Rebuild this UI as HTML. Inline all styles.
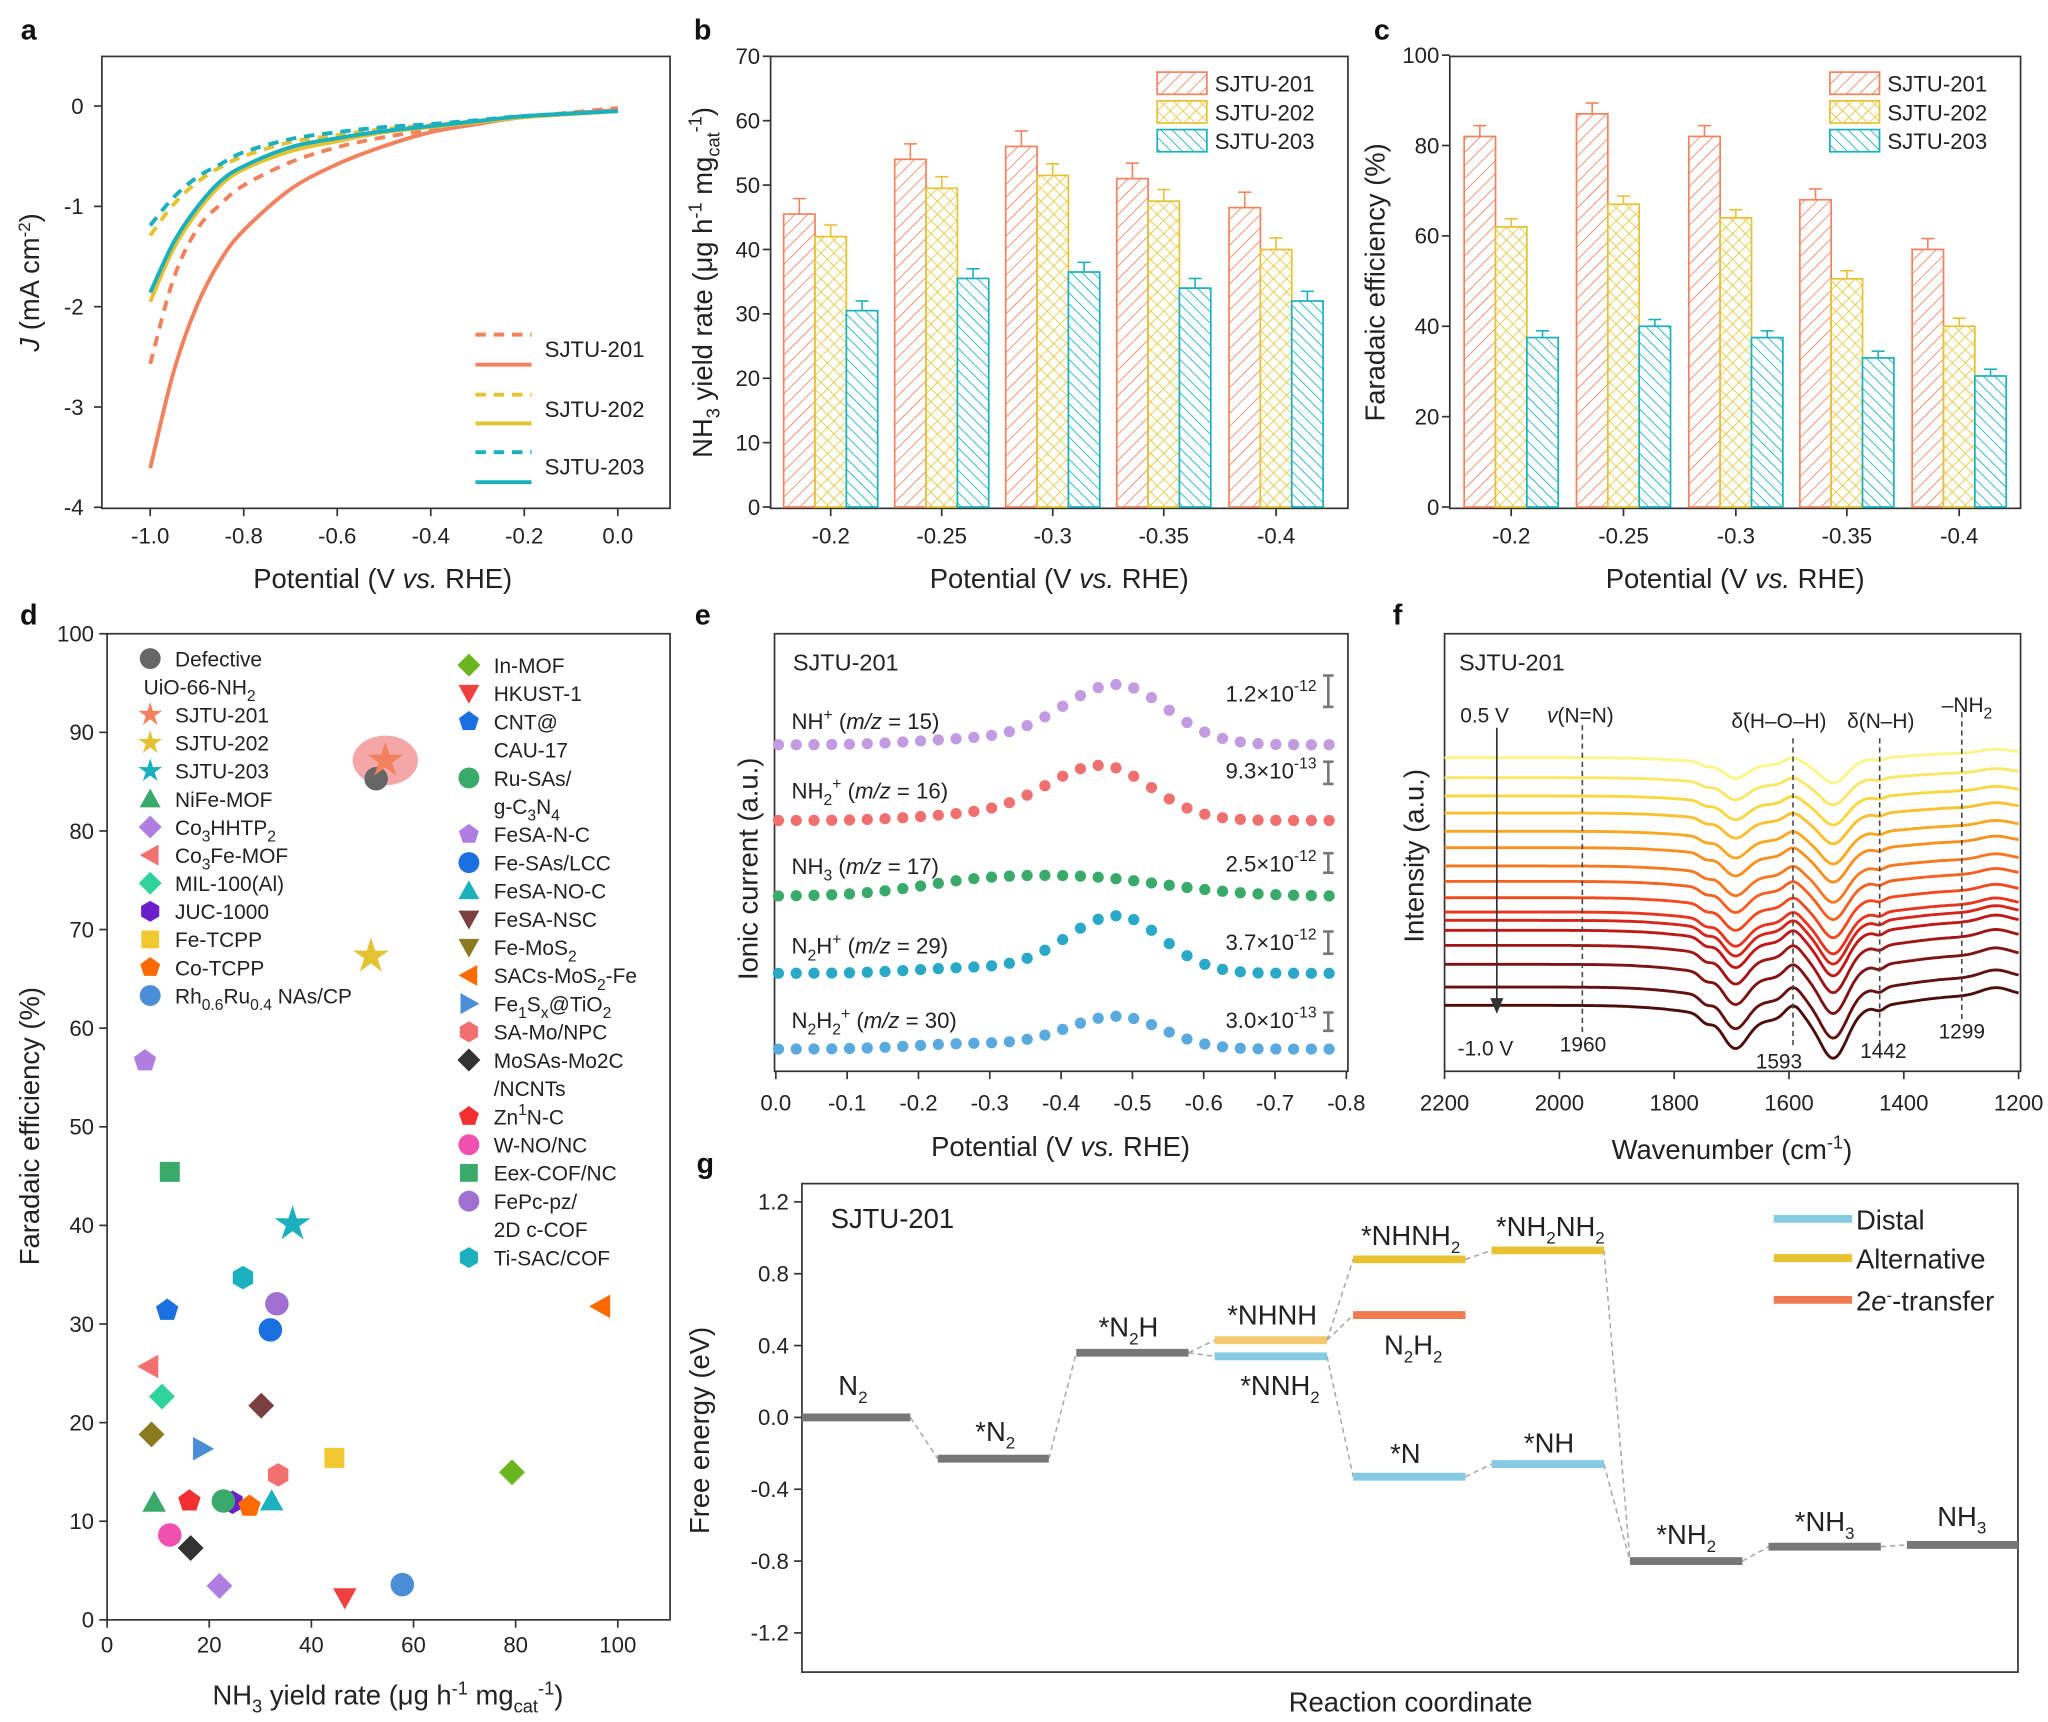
<!DOCTYPE html>
<html><head><meta charset="utf-8">
<style>
html,body{margin:0;padding:0;background:#fff;}
svg{display:block;font-family:"Liberation Sans",Arial,sans-serif;}
.t{font-size:17px;fill:#222}
.lab{font-size:21px;fill:#222}
.pl{font-size:22px;font-weight:bold;fill:#111}
.sm{font-size:16px;fill:#222}
</style></head>
<body>
<svg id="s" width="2048" height="1722" viewBox="0 0 1568 1318" xmlns="http://www.w3.org/2000/svg">
<defs>
<pattern id="h1" width="7" height="7" patternUnits="userSpaceOnUse" patternTransform="rotate(45)"><rect width="7" height="7" fill="#fff"/><line x1="0" y1="0" x2="0" y2="7" stroke="#f2825e" stroke-width="1.3"/></pattern>
<pattern id="h2" width="7" height="7" patternUnits="userSpaceOnUse" patternTransform="rotate(45)"><rect width="7" height="7" fill="#fff"/><line x1="0" y1="0" x2="0" y2="7" stroke="#e5c232" stroke-width="1.2"/><line x1="0" y1="0" x2="7" y2="0" stroke="#e5c232" stroke-width="1.2"/></pattern>
<pattern id="h3" width="6" height="6" patternUnits="userSpaceOnUse" patternTransform="rotate(-45)"><rect width="6" height="6" fill="#fff"/><line x1="0" y1="0" x2="0" y2="6" stroke="#1ab0bd" stroke-width="1.3"/></pattern>
</defs>
<g id="root"></g>
</svg>
<script>
const R=document.getElementById('root');let H='';
const C1='#f2825e',C2='#e5c232',C3='#1ab0bd';
function T(x,y,s,cls,anc,extra){H+=`<text x="${x}" y="${y}" class="${cls||'t'}" text-anchor="${anc||'middle'}" ${extra||''}>${s}</text>`;}
function box(x1,y1,x2,y2){H+=`<rect x="${x1}" y="${y1}" width="${x2-x1}" height="${y2-y1}" fill="none" stroke="#333" stroke-width="1.3"/>`;}
function L(x1,y1,x2,y2,c,w,d){H+=`<line x1="${x1}" y1="${y1}" x2="${x2}" y2="${y2}" stroke="${c||'#333'}" stroke-width="${w||1.3}" ${d?`stroke-dasharray="${d}"`:''}/>`;}
function cr(P){let d='M'+P[0][0].toFixed(1)+','+P[0][1].toFixed(1);for(let i=0;i<P.length-1;i++){let p0=P[i-1]||P[i],p1=P[i],p2=P[i+1],p3=P[i+2]||p2;
 let c1=[p1[0]+(p2[0]-p0[0])/6,p1[1]+(p2[1]-p0[1])/6],c2=[p2[0]-(p3[0]-p1[0])/6,p2[1]-(p3[1]-p1[1])/6];
 d+=`C${c1[0].toFixed(1)},${c1[1].toFixed(1)} ${c2[0].toFixed(1)},${c2[1].toFixed(1)} ${p2[0].toFixed(1)},${p2[1].toFixed(1)}`;}return d;}
// panel labels
T(22,30,'a','pl');T(538,30,'b','pl');T(1058,30,'c','pl');T(22,478,'d','pl');T(538,478,'e','pl');T(1070,478,'f','pl');T(540,898,'g','pl');
// ---- a
box(78,43,513,389);
const ax=v=>473+v*358, ay=j=>81-j*76.8;
for(let i=0;i<=5;i++){let v=-1+i*0.2,x=ax(v);L(x,389,x,395);T(x,416,v.toFixed(1));}
for(let j=0;j<=4;j++){let y=ay(-j);L(72,y,78,y);T(64,y+6,j?'-'+j:'0','t','end');}
T(293,450,'Potential (V <tspan font-style="italic">vs.</tspan> RHE)','lab');
T(30,216,'<tspan font-style="italic">J</tspan> (mA cm<tspan dy="-7" font-size="13">-2</tspan><tspan dy="7">)</tspan>','lab','middle','transform="rotate(-90 30 216)"');
const VV=[-1,-0.95,-0.9,-0.85,-0.8,-0.7,-0.6,-0.5,-0.4,-0.3,-0.2,0];
function curve(J,c,d){let P=VV.map((v,i)=>[ax(v),ay(J[i])]);H+=`<path d="${cr(P)}" fill="none" stroke="${c}" stroke-width="3" ${d?'stroke-dasharray="8,6"':''}/>`;}
curve([-3.61,-2.65,-1.99,-1.54,-1.24,-0.83,-0.58,-0.4,-0.26,-0.18,-0.11,-0.04],C1);
curve([-2.57,-1.72,-1.23,-0.98,-0.79,-0.56,-0.41,-0.31,-0.24,-0.17,-0.11,-0.02],C1,1);
curve([-1.95,-1.42,-1.06,-0.79,-0.63,-0.45,-0.35,-0.26,-0.21,-0.16,-0.11,-0.05],C2);
curve([-1.29,-0.98,-0.76,-0.61,-0.5,-0.36,-0.29,-0.23,-0.19,-0.15,-0.11,-0.05],C2,1);
curve([-1.86,-1.36,-1.01,-0.75,-0.6,-0.41,-0.32,-0.25,-0.2,-0.15,-0.1,-0.05],C3);
curve([-1.19,-0.91,-0.71,-0.58,-0.46,-0.33,-0.26,-0.21,-0.18,-0.14,-0.1,-0.05],C3,1);
[[C1,256,279,'SJTU-201'],[C2,302,324,'SJTU-202'],[C3,346,369,'SJTU-203']].forEach(a=>{L(364,a[1],407,a[1],a[0],3,'8,6');L(364,a[2],407,a[2],a[0],3);T(417,a[1]+17,a[3],'sm','start','style="font-size:17px"');});
// ---- bars
function bars(x1,x2,y0,sc,ymax,step,centers,vals,yl,ylx){
 box(x1,43,x2,389);
 const labs=['-0.2','-0.25','-0.3','-0.35','-0.4'];
 centers.forEach((c,i)=>{L(c,389,c,395);T(c,416,labs[i]);
  vals[i].forEach((v,k)=>{let x=c-36+k*24,y=y0-v*sc;let col=[C1,C2,C3][k];
   let e=[2,1.8,1.5][k]*(k==0?1.2:1);
   L(x+12,y,x+12,y-e*sc,col,1.2);L(x+7,y-e*sc,x+17,y-e*sc,col,1.2);
   H+=`<rect x="${x}" y="${y}" width="24" height="${v*sc}" fill="url(#h${k+1})" stroke="${col}" stroke-width="1.3"/>`;});});
 for(let v=0;v<=ymax;v+=step){let y=y0-v*sc;L(x1-6,y,x1,y);T(x1-8,y+6,v,'t','end');}
 T((x1+x2)/2,450,'Potential (V <tspan font-style="italic">vs.</tspan> RHE)','lab');
 T(ylx,216,yl,'lab','middle',`transform="rotate(-90 ${ylx} 216)"`);
 let lx=x2-146;[['SJTU-201',1],['SJTU-202',2],['SJTU-203',3]].forEach((a,i)=>{let y=55+i*22;H+=`<rect x="${lx}" y="${y}" width="38" height="17" fill="url(#h${a[1]})" stroke="${[C1,C2,C3][i]}" stroke-width="1.3"/>`;T(lx+44,y+15,a[0],'sm','start','style="font-size:17px"');});
}
bars(590,1032,388,4.93,70,10,[636,721,806,891,977],[[45.5,42,30.5],[54,49.5,35.5],[56,51.5,36.5],[51,47.5,34],[46.5,40,32]],'NH<tspan dy="6" font-size="14">3</tspan><tspan dy="-6"> yield rate (μg h</tspan><tspan dy="-8" font-size="14">-1</tspan><tspan dy="8"> mg</tspan><tspan dy="6" font-size="14">cat</tspan><tspan dy="-14" font-size="14">-1</tspan><tspan dy="8">)</tspan>',545);
bars(1110,1547,388,3.46,100,20,[1157,1243,1329,1414,1500],[[82,62,37.5],[87,67,40],[82,64,37.5],[68,50.5,33],[57,40,29]],'Faradaic efficiency (%)',1060);
// ---- d
box(82,485,513,1240);
const dx=v=>82+v*3.91, dy=v=>1240-v*7.55;
for(let v=0;v<=100;v+=20){L(dx(v),1240,dx(v),1246);T(dx(v),1265,v);}
for(let v=0;v<=100;v+=10){L(76,dy(v),82,dy(v));T(72,dy(v)+6,v,'t','end');}
T(297,1305,'NH<tspan dy="6" font-size="14">3</tspan><tspan dy="-6"> yield rate (μg h</tspan><tspan dy="-8" font-size="14">-1</tspan><tspan dy="8"> mg</tspan><tspan dy="6" font-size="14">cat</tspan><tspan dy="-14" font-size="14">-1</tspan><tspan dy="8">)</tspan>','lab');
T(30,862,'Faradaic efficiency (%)','lab','middle','transform="rotate(-90 30 862)"');
function mk(x,y,t,c,r){r=r||9;
 if(t=='c')H+=`<circle cx="${x}" cy="${y}" r="${r}" fill="${c}"/>`;
 else if(t=='s')H+=`<rect x="${x-r*0.85}" y="${y-r*0.85}" width="${r*1.7}" height="${r*1.7}" fill="${c}"/>`;
 else if(t=='d')H+=`<polygon points="${x},${y-r*1.1} ${x+r*1.1},${y} ${x},${y+r*1.1} ${x-r*1.1},${y}" fill="${c}"/>`;
 else if(t=='tu')H+=`<polygon points="${x},${y-r} ${x+r},${y+r*0.8} ${x-r},${y+r*0.8}" fill="${c}"/>`;
 else if(t=='td')H+=`<polygon points="${x},${y+r} ${x+r},${y-r*0.8} ${x-r},${y-r*0.8}" fill="${c}"/>`;
 else if(t=='tl')H+=`<polygon points="${x-r},${y} ${x+r*0.8},${y-r} ${x+r*0.8},${y+r}" fill="${c}"/>`;
 else if(t=='tr')H+=`<polygon points="${x+r},${y} ${x-r*0.8},${y-r} ${x-r*0.8},${y+r}" fill="${c}"/>`;
 else if(t=='p'){let p='';for(let i=0;i<5;i++){let a=-Math.PI/2+i*2*Math.PI/5;p+=(x+r*Math.cos(a))+','+(y+r*Math.sin(a))+' ';}H+=`<polygon points="${p}" fill="${c}"/>`;}
 else if(t=='h'){let p='';for(let i=0;i<6;i++){let a=i*Math.PI/3+Math.PI/6;p+=(x+r*Math.cos(a))+','+(y+r*Math.sin(a))+' ';}H+=`<polygon points="${p}" fill="${c}"/>`;}
 else if(t=='st'){let p='';for(let i=0;i<10;i++){let a=-Math.PI/2+i*Math.PI/5;let rr=i%2?r*0.45:r*1.2;p+=(x+rr*Math.cos(a))+','+(y+rr*Math.sin(a))+' ';}H+=`<polygon points="${p}" fill="${c}"/>`;}
}
H+=`<ellipse cx="295" cy="582" rx="25" ry="19" fill="#f28a8a" opacity="0.75"/>`;
const pts=[[288,596,'c','#666'],[295,582,'st',C1,12],[284,732,'st',C2,12],[224,937,'st',C3,12],[118,1150,'tu','#3aaa6a'],[168,1214,'d','#b07ee0'],[114,1046,'tl','#f27070'],[124,1069,'d','#2ed29a'],[178,1150,'h','#6a1fc9'],[256,1116,'s','#f2c830'],[191,1153,'p','#ff6a00'],[308,1213,'c','#4a8ed8'],[392,1127,'d','#6ab520'],[264,1223,'td','#f04040'],[128,1003,'p','#1a70e0'],[171,1149,'c','#3aaa6a'],[111,812,'p','#b07ee0'],[207,1018,'c','#1a70e0'],[186,978,'h','#1ab0bd'],[200,1076,'d','#7a4040'],[460,1000,'tl','#ff6a00'],[155,1109,'tr','#4a8ed8'],[213,1129,'h','#f27070'],[146,1185,'d','#333'],[145,1149,'p','#f23030'],[130,1175,'c','#f050b0'],[130,897,'s','#3aaa6a'],[212,998,'c','#a070d0'],[208,1149,'tu','#1ab0bd'],[116,1098,'d','#8a7a20']];
pts.forEach(p=>mk(p[0],p[1],p[2],p[3],p[4]));
const leg1=[['c','#666','Defective'],[null,null,'UiO-66-NH<tspan dy="5" font-size="12">2</tspan>'],['st',C1,'SJTU-201'],['st',C2,'SJTU-202'],['st',C3,'SJTU-203'],['tu','#3aaa6a','NiFe-MOF'],['d','#b07ee0','Co<tspan dy="5" font-size="12">3</tspan><tspan dy="-5">HHTP</tspan><tspan dy="5" font-size="12">2</tspan>'],['tl','#f27070','Co<tspan dy="5" font-size="12">3</tspan><tspan dy="-5">Fe-MOF</tspan>'],['d','#2ed29a','MIL-100(Al)'],['h','#6a1fc9','JUC-1000'],['s','#f2c830','Fe-TCPP'],['p','#ff6a00','Co-TCPP'],['c','#4a8ed8','Rh<tspan dy="5" font-size="12">0.6</tspan><tspan dy="-5">Ru</tspan><tspan dy="5" font-size="12">0.4</tspan><tspan dy="-5"> NAs/CP</tspan>']];
leg1.forEach((a,i)=>{let y=504+i*21.5;if(a[0])mk(115,y,a[0],a[1],8);T(a[0]?134:110,y+6,a[2],'sm','start');});
const leg2=[['d','#6ab520','In-MOF'],['td','#f04040','HKUST-1'],['p','#1a70e0','CNT@'],[null,0,'CAU-17'],['c','#3aaa6a','Ru-SAs/'],[null,0,'g-C<tspan dy="5" font-size="12">3</tspan><tspan dy="-5">N</tspan><tspan dy="5" font-size="12">4</tspan>'],['p','#b07ee0','FeSA-N-C'],['c','#1a70e0','Fe-SAs/LCC'],['tu','#1ab0bd','FeSA-NO-C'],['td','#7a4040','FeSA-NSC'],['td','#8a7a20','Fe-MoS<tspan dy="5" font-size="12">2</tspan>'],['tl','#ff6a00','SACs-MoS<tspan dy="5" font-size="12">2</tspan><tspan dy="-5">-Fe</tspan>'],['tr','#4a8ed8','Fe<tspan dy="5" font-size="12">1</tspan><tspan dy="-5">S</tspan><tspan dy="5" font-size="12">x</tspan><tspan dy="-5">@TiO</tspan><tspan dy="5" font-size="12">2</tspan>'],['h','#f27070','SA-Mo/NPC'],['d','#333','MoSAs-Mo2C'],[null,0,'/NCNTs'],['p','#f23030','Zn<tspan dy="-7" font-size="12">1</tspan><tspan dy="7">N-C</tspan>'],['c','#f050b0','W-NO/NC'],['s','#3aaa6a','Eex-COF/NC'],['c','#a070d0','FePc-pz/'],[null,0,'2D c-COF'],['h','#1ab0bd','Ti-SAC/COF']];
leg2.forEach((a,i)=>{let y=509+i*21.6;if(a[0])mk(359,y,a[0],a[1],8);T(378,y+6,a[2],'sm','start');});
// ---- e
box(593,485,1032,820);
const ex=v=>594-v*546;
for(let i=0;i<=8;i++){let v=-i*0.1,x=ex(v);L(x,820,x,826);T(x,850,i?v.toFixed(1):'0.0');}
T(812,885,'Potential (V <tspan font-style="italic">vs.</tspan> RHE)','lab');
T(580,665,'Ionic current (a.u.)','lab','middle','transform="rotate(-90 580 665)"');
T(607,513,'SJTU-201','sm','start','style="font-size:18px"');
const es=[['#c39be0',570,46,855,60,'NH<tspan dy="-7" font-size="12">+</tspan><tspan dy="7"> (</tspan><tspan font-style="italic">m/z</tspan> = 15)','1.2×10<tspan dy="-8" font-size="12">-12</tspan>',558,537,517,541],
['#f07070',628,42,843,60,'NH<tspan dy="5" font-size="12">2</tspan><tspan dy="-12" font-size="12">+</tspan><tspan dy="7"> (</tspan><tspan font-style="italic">m/z</tspan> = 16)','9.3×10<tspan dy="-8" font-size="12">-13</tspan>',611,596,583,600],
['#3aaa6a',686,15,820,110,'NH<tspan dy="5" font-size="12">3</tspan><tspan dy="-5"> (</tspan><tspan font-style="italic">m/z</tspan> = 17)','2.5×10<tspan dy="-8" font-size="12">-12</tspan>',669,667,653,668],
['#29a8c8',745,44,855,55,'N<tspan dy="5" font-size="12">2</tspan><tspan dy="-5">H</tspan><tspan dy="-7" font-size="12">+</tspan><tspan dy="7"> (</tspan><tspan font-style="italic">m/z</tspan> = 29)','3.7×10<tspan dy="-8" font-size="12">-12</tspan>',730,727,713,730],
['#5aaae0',803,25,855,55,'N<tspan dy="5" font-size="12">2</tspan><tspan dy="-5">H</tspan><tspan dy="5" font-size="12">2</tspan><tspan dy="-12" font-size="12">+</tspan><tspan dy="7"> (</tspan><tspan font-style="italic">m/z</tspan> = 30)','3.0×10<tspan dy="-8" font-size="12">-13</tspan>',787,787,775,789]];
es.forEach(s=>{for(let x=596;x<=1030;x+=13.6){let w=x<s[3]?s[4]:s[4]*0.9;let y=s[1]-s[2]*Math.exp(-Math.pow((x-s[3])/w,2))-4*Math.exp(-Math.pow((x-740)/60,2));H+=`<circle cx="${x}" cy="${y}" r="4.3" fill="${s[0]}"/>`;}
 T(606,s[7],s[5],'sm','start','style="font-size:17px"');T(1008,s[8],s[6],'sm','end','style="font-size:17px"');
 L(1017,s[9],1017,s[10],'#777',2);L(1013,s[9],1021,s[9],'#777',2);L(1013,s[10],1021,s[10],'#777',2);});
// ---- f
box(1106,485,1547,820);
const fx=w=>1106+(2200-w)*0.4395;
for(let w=2200;w>=1200;w-=200){L(fx(w),820,fx(w),826);T(fx(w),850,w);}
T(1326,887,'Wavenumber (cm<tspan dy="-8" font-size="14">-1</tspan><tspan dy="8">)</tspan>','lab');
T(1090,655,'Intensity (a.u.)','lab','middle','transform="rotate(-90 1090 655)"');
T(1117,513,'SJTU-201','sm','start','style="font-size:18px"');
const zy=[172,232,287,338,393,442,497,543,592,635,660,690,735,792,860,915];
const stops=[[251,246,140],[248,214,60],[250,160,30],[248,110,35],[240,60,30],[200,25,25],[130,20,20],[75,12,12]];
function lerp(a,b,t){return Math.round(a+(b-a)*t);}
function colAt(t){let f=t*(stops.length-1),i=Math.min(Math.floor(f),stops.length-2),u=f-i;let a=stops[i],b=stops[i+1];return `rgb(${lerp(a[0],b[0],u)},${lerp(a[1],b[1],u)},${lerp(a[2],b[2],u)})`;}
zy.forEach((z,i)=>{let t=i/15;let base=(700+z/3)/1.306;let a=0.55+0.6*t;let p='';
 for(let w=2200;w>=1200;w-=4){let g=(c,s)=>Math.exp(-Math.pow((w-c)/s,2));
  let y=base+a*(10*g(1640,150)+20*g(1694,30)+5*g(1745,15)+30*g(1522,33)-9*g(1593,20)-5*g(1240,35)+3*g(1442,12))-7*a/(1+Math.exp((w-1380)/40));
  p+=(w==2200?'M':'L')+fx(w).toFixed(1)+','+y.toFixed(1);}
 H+=`<path d="${p}" fill="none" stroke="${colAt(t)}" stroke-width="2.2"/>`;});
[1960,1593,1442,1299].forEach((w,i)=>L(fx(w),[555,565,565,545][i],fx(w),[790,800,800,780][i],'#444',1.2,'4,3'));
L(1146,557,1146,770,'#333',1.3);H+=`<polygon points="1141,764 1151,764 1146,776" fill="#333"/>`;
T(1118,553,'0.5 V','sm','start');T(1116,808,'-1.0 V','sm','start');
T(1210,553,'<tspan font-style="italic">v</tspan>(N=N)','sm');T(1212,805,'1960','sm');T(1362,818,'1593','sm');T(1442,810,'1442','sm');T(1502,795,'1299','sm');
T(1362,557,'δ(H–O–H)','sm');T(1440,557,'δ(N–H)','sm');T(1506,545,'–NH<tspan dy="5" font-size="12">2</tspan>','sm');
// ---- g
box(614,906,1545,1280);
const gy=v=>1085-v*137.5;
for(let k=-3;k<=3;k++){let v=k*0.4;L(608,gy(v),614,gy(v));T(604,gy(v)+6,v.toFixed(1),'t','end');}
T(1080,1310,'Reaction coordinate','lab');
T(543,1095,'Free energy (eV)','lab','middle','transform="rotate(-90 543 1095)"');
T(636,940,'SJTU-201','lab','start');
const G='#777',B='#85cbe3',Y='#e8c232',O='#f07a50';
const lv=[[614,697,0,G],[718,803,-0.23,G],[824,910,0.36,G],[930,1016,0.43,'#f3c870'],[930,1016,0.34,B],[1036,1122,0.88,Y],[1036,1122,0.57,O],[1036,1122,-0.33,B],[1142,1228,0.93,Y],[1142,1228,-0.26,B],[1248,1334,-0.8,G],[1354,1440,-0.72,G],[1460,1545,-0.71,G]];
const cn=[[0,1],[1,2],[2,3],[2,4],[3,5],[3,6],[4,7],[5,8],[7,9],[8,10],[9,10],[10,11],[11,12]];
cn.forEach(c=>{let a=lv[c[0]],b=lv[c[1]];L(a[1],gy(a[2]),b[0],gy(b[2]),'#aaa',1.2,'4,3');});
lv.forEach(l=>L(l[0],gy(l[2]),l[1],gy(l[2]),l[3],6));
const gl=[[653,1068,'N<tspan dy="6" font-size="13">2</tspan>'],[762,1103,'*N<tspan dy="6" font-size="13">2</tspan>'],[864,1023,'*N<tspan dy="6" font-size="13">2</tspan><tspan dy="-6">H</tspan>'],[974,1014,'*NHNH'],[980,1068,'*NNH<tspan dy="6" font-size="13">2</tspan>'],[1080,953,'*NHNH<tspan dy="6" font-size="13">2</tspan>'],[1082,1037,'N<tspan dy="6" font-size="13">2</tspan><tspan dy="-6">H</tspan><tspan dy="6" font-size="13">2</tspan>'],[1076,1120,'*N'],[1187,946,'*NH<tspan dy="6" font-size="13">2</tspan><tspan dy="-6">NH</tspan><tspan dy="6" font-size="13">2</tspan>'],[1186,1112,'*NH'],[1291,1182,'*NH<tspan dy="6" font-size="13">2</tspan>'],[1397,1172,'*NH<tspan dy="6" font-size="13">3</tspan>'],[1502,1168,'NH<tspan dy="6" font-size="13">3</tspan>']];
gl.forEach(g=>T(g[0],g[1],g[2],'lab'));
[[B,'Distal',933],[Y,'Alternative',963],[O,'2<tspan font-style="italic">e</tspan><tspan dy="-7" font-size="13">-</tspan><tspan dy="7">-transfer</tspan>',995]].forEach(a=>{L(1358,a[2],1418,a[2],a[0],6);T(1421,a[2]+8,a[1],'lab','start');});
R.innerHTML=H;
</script>
</body></html>
